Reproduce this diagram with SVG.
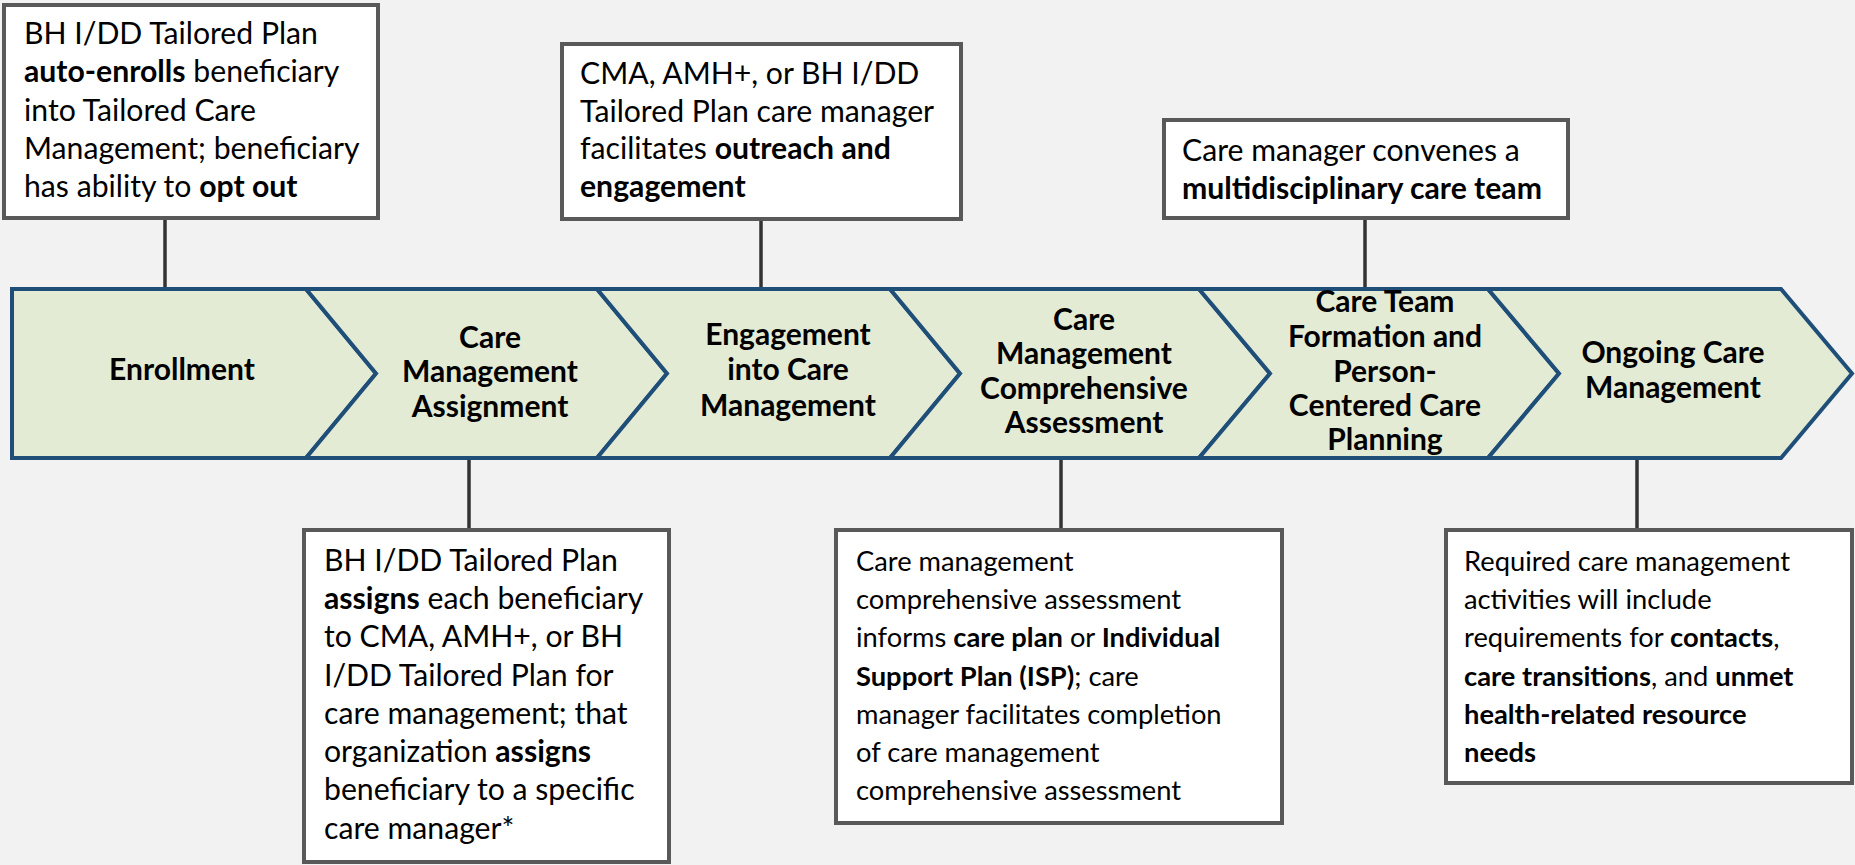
<svg xmlns="http://www.w3.org/2000/svg" width="1855" height="865" viewBox="0 0 1855 865">
<style>
.bg{fill:#F2F2F2}
.box{fill:#FFFFFF;stroke:#595959;stroke-width:4}
.chev{fill:#E4EBD5;stroke:#1F4E79;stroke-width:4;stroke-linejoin:miter}
.conn{stroke:#333333;stroke-width:3.5;fill:none}
.t{font-family:Lato,"Liberation Sans",sans-serif;font-size:30.2px;fill:#000}
.s{font-size:27.3px}
.c{font-family:Lato,"Liberation Sans",sans-serif;font-size:30px;font-weight:bold;fill:#000;text-anchor:middle}
.b{font-weight:bold}
</style>
<rect class="bg" x="0" y="0" width="1855" height="865"/>
<g id="connectors">
<line class="conn" x1="165" y1="218" x2="165" y2="289"/>
<line class="conn" x1="761" y1="219" x2="761" y2="289"/>
<line class="conn" x1="1365" y1="218" x2="1365" y2="289"/>
<line class="conn" x1="469" y1="458" x2="469" y2="530"/>
<line class="conn" x1="1061" y1="458" x2="1061" y2="530"/>
<line class="conn" x1="1637" y1="458" x2="1637" y2="530"/>
</g>
<g id="chevron-enrollment">
<polygon class="chev" points="12,289 306,289 376,373.5 306,458 12,458"/>
<text class="c" x="182" y="380">Enrollment</text>
</g>
<g id="chevron-assignment">
<polygon class="chev" points="306,289 597,289 667,373.5 597,458 306,458 376,373.5"/>
<text class="c" x="490" y="348">Care</text>
<text class="c" x="490" y="382">Management</text>
<text class="c" x="490" y="417">Assignment</text>
</g>
<g id="chevron-engagement">
<polygon class="chev" points="597,289 890,289 960,373.5 890,458 597,458 667,373.5"/>
<text class="c" x="788" y="345">Engagement</text>
<text class="c" x="788" y="380">into Care</text>
<text class="c" x="788" y="416">Management</text>
</g>
<g id="chevron-assessment">
<polygon class="chev" points="890,289 1199,289 1270,373.5 1199,458 890,458 960,373.5"/>
<text class="c" x="1084" y="330">Care</text>
<text class="c" x="1084" y="364">Management</text>
<text class="c" x="1084" y="399">Comprehensive</text>
<text class="c" x="1084" y="433">Assessment</text>
</g>
<g id="chevron-careteam">
<polygon class="chev" points="1199,289 1488,289 1559,373.5 1488,458 1199,458 1270,373.5"/>
<text class="c" x="1385" y="312">Care Team</text>
<text class="c" x="1385" y="347">Formation and</text>
<text class="c" x="1385" y="382">Person-</text>
<text class="c" x="1385" y="416">Centered Care</text>
<text class="c" x="1385" y="450">Planning</text>
</g>
<g id="chevron-ongoing">
<polygon class="chev" points="1488,289 1781,289 1852,373.5 1781,458 1488,458 1559,373.5"/>
<text class="c" x="1673" y="363">Ongoing Care</text>
<text class="c" x="1673" y="398">Management</text>
</g>
<g id="box-enroll">
<rect class="box" x="4" y="5" width="374" height="213"/>
<text class="t" x="24" y="44">BH I/DD Tailored Plan</text>
<text class="t" x="24" y="82"><tspan class="b">auto-enrolls</tspan> beneficiary</text>
<text class="t" x="24" y="121">into Tailored Care</text>
<text class="t" x="24" y="159">Management; beneficiary</text>
<text class="t" x="24" y="197">has ability to <tspan class="b">opt out</tspan></text>
</g>
<g id="box-outreach">
<rect class="box" x="562" y="44" width="399" height="175"/>
<text class="t" x="580" y="84">CMA, AMH+, or BH I/DD</text>
<text class="t" x="580" y="122">Tailored Plan care manager</text>
<text class="t" x="580" y="159">facilitates <tspan class="b">outreach and</tspan></text>
<text class="t" x="580" y="197"><tspan class="b">engagement</tspan></text>
</g>
<g id="box-team">
<rect class="box" x="1164" y="120" width="404" height="98"/>
<text class="t" x="1182" y="161">Care manager convenes a</text>
<text class="t" x="1182" y="199"><tspan class="b">multidisciplinary care team</tspan></text>
</g>
<g id="box-assign">
<rect class="box" x="304" y="530" width="365" height="332"/>
<text class="t" x="324" y="571">BH I/DD Tailored Plan</text>
<text class="t" x="324" y="609"><tspan class="b">assigns</tspan> each beneficiary</text>
<text class="t" x="324" y="647">to CMA, AMH+, or BH</text>
<text class="t" x="324" y="686">I/DD Tailored Plan for</text>
<text class="t" x="324" y="724">care management; that</text>
<text class="t" x="324" y="762">organization <tspan class="b">assigns</tspan></text>
<text class="t" x="324" y="800">beneficiary to a specific</text>
<text class="t" x="324" y="839">care manager*</text>
</g>
<g id="box-assessment">
<rect class="box" x="836" y="530" width="446" height="293"/>
<text class="t s" x="856" y="571">Care management</text>
<text class="t s" x="856" y="609">comprehensive assessment</text>
<text class="t s" x="856" y="647">informs <tspan class="b">care plan</tspan> or <tspan class="b">Individual</tspan></text>
<text class="t s" x="856" y="686"><tspan class="b">Support Plan (ISP)</tspan>; care</text>
<text class="t s" x="856" y="724">manager facilitates completion</text>
<text class="t s" x="856" y="762">of care management</text>
<text class="t s" x="856" y="800">comprehensive assessment</text>
</g>
<g id="box-ongoing">
<rect class="box" x="1446" y="530" width="406" height="253"/>
<text class="t s" x="1464" y="571">Required care management</text>
<text class="t s" x="1464" y="609">activities will include</text>
<text class="t s" x="1464" y="647">requirements for <tspan class="b">contacts</tspan>,</text>
<text class="t s" x="1464" y="686"><tspan class="b">care transitions</tspan>, and <tspan class="b">unmet</tspan></text>
<text class="t s" x="1464" y="724"><tspan class="b">health-related resource</tspan></text>
<text class="t s" x="1464" y="762"><tspan class="b">needs</tspan></text>
</g>
</svg>
